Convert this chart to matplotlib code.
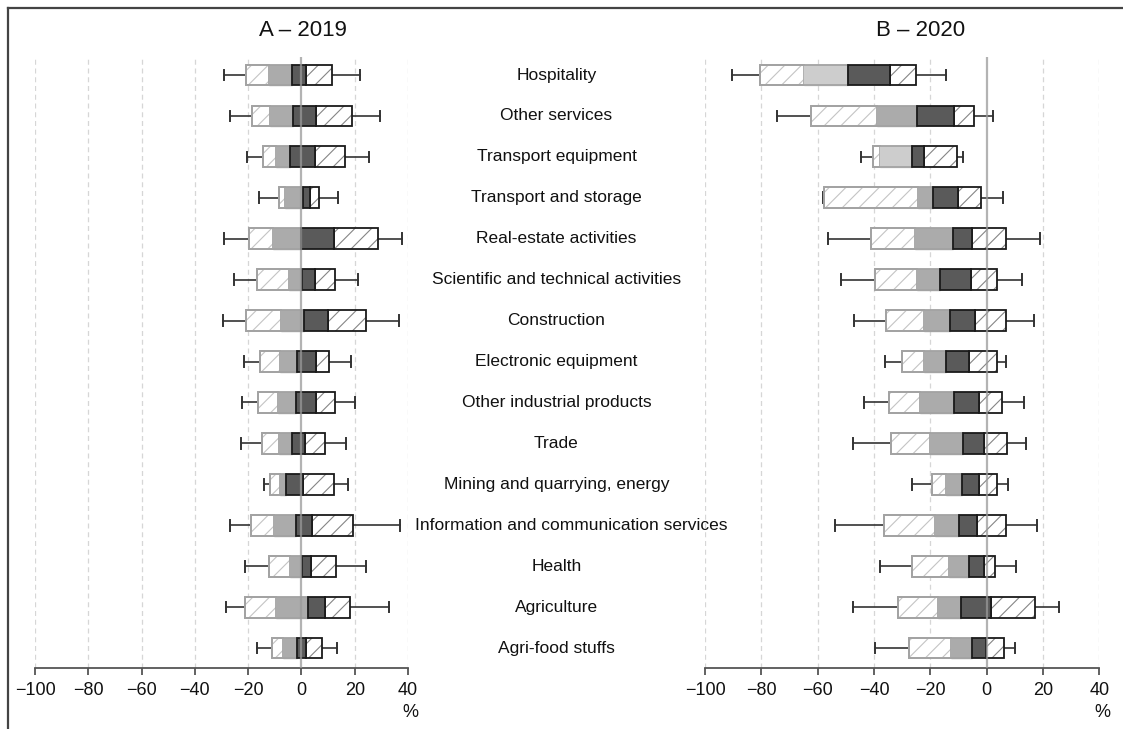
import matplotlib
matplotlib.use("Agg")
import matplotlib.pyplot as plt
from matplotlib.lines import Line2D

plt.rcParams['font.family'] = ['Liberation Sans', 'DejaVu Sans']
plt.rcParams['hatch.linewidth'] = 0.8

categories = [
    "Hospitality", "Other services", "Transport equipment", "Transport and storage",
    "Real-estate activities", "Scientific and technical activities", "Construction",
    "Electronic equipment", "Other industrial products", "Trade",
    "Mining and quarrying, energy", "Information and communication services",
    "Health", "Agriculture", "Agri-food stuffs",
]

# 2019: whisker ends and the five cut points of the stacked box
whisk_lo_2019 = [-29.1, -26.8, -20.5, -16.0, -29.2, -25.3, -29.5, -21.5, -22.2, -22.6, -14.0, -26.8, -21.2, -28.4, -16.7]
cut1_2019 = [-20.7, -18.5, -14.4, -8.5, -19.6, -16.7, -20.9, -15.4, -16.2, -14.8, -11.7, -18.9, -12.2, -21.1, -11.2]
cut2_2019 = [-12.2, -11.8, -9.4, -6.0, -10.5, -4.8, -7.5, -7.9, -8.9, -8.5, -7.9, -10.4, -4.3, -9.5, -6.9]
cut3_2019 = [-3.4, -3.2, -4.3, 0.6, -0.2, 0.4, 1.1, -1.5, -1.9, -3.5, -5.7, -2.0, 0.1, 2.4, -1.5]
cut4_2019 = [1.6, 5.5, 5.2, 3.1, 12.2, 5.0, 10.1, 5.6, 5.4, 1.2, 0.6, 3.9, 3.7, 9.0, 1.8]
cut5_2019 = [11.4, 18.9, 16.2, 6.7, 28.8, 12.7, 24.2, 10.4, 12.5, 8.9, 12.1, 19.2, 13.0, 18.1, 7.6]
whisk_hi_2019 = [21.9, 29.5, 25.4, 13.7, 37.9, 21.1, 36.8, 18.6, 20.0, 16.6, 17.4, 37.0, 24.4, 33.0, 13.5]

# 2020
whisk_lo_2020 = [-90.5, -74.4, -44.6, -58.0, -56.3, -51.6, -47.0, -36.1, -43.4, -47.4, -26.4, -53.8, -37.7, -47.4, -39.7]
cut1_2020 = [-80.6, -62.2, -40.2, -57.8, -40.9, -39.7, -35.7, -30.1, -34.5, -33.8, -19.3, -36.3, -26.5, -31.3, -27.5]
cut2_2020 = [-64.7, -38.8, -37.7, -24.3, -25.5, -24.8, -22.1, -22.4, -23.5, -20.0, -14.6, -18.2, -13.3, -17.2, -12.5]
cut3_2020 = [-49.4, -24.7, -26.4, -19.1, -12.0, -16.4, -12.9, -14.4, -11.5, -8.3, -8.8, -9.9, -6.2, -9.1, -5.2]
cut4_2020 = [-34.4, -11.7, -22.1, -10.1, -5.3, -5.5, -4.3, -6.3, -2.8, -0.9, -2.7, -3.6, -1.1, 1.5, -0.4]
cut5_2020 = [-25.0, -4.6, -10.6, -2.1, 7.0, 3.6, 6.7, 3.5, 5.6, 7.4, 3.6, 6.7, 3.1, 17.1, 6.1]
whisk_hi_2020 = [-14.3, 2.4, -8.3, 5.9, 19.1, 12.4, 16.8, 6.7, 13.1, 13.8, 7.7, 17.9, 10.5, 25.8, 10.2]

mid_shade_2019 = ['#ababab'] * 15
mid_shade_2020 = ['#cdcdcd', '#ababab', '#cdcdcd'] + ['#ababab'] * 12

xticks = [-100, -80, -60, -40, -20, 0, 20, 40]

W, H = 1123, 729
fig = plt.figure(figsize=(W / 100, H / 100), dpi=100)

ax_a = fig.add_axes([35 / W, 61.3 / H, 373 / W, 610.7 / H])
ax_b = fig.add_axes([705 / W, 61.3 / H, 394.3 / W, 610.7 / H])

BOX_H = 0.51
LIGHT_EDGE = '#a3a3a3'
DARK_EDGE = '#1a1a1a'
TXT = '#111111'


def hatched(ax, y, a, b, hatch_col, edge_col, lw):
    ax.barh(y, b - a, left=a, height=BOX_H, color='white', edgecolor=hatch_col,
            hatch='//', linewidth=0, zorder=3)
    ax.barh(y, b - a, left=a, height=BOX_H, fill=False, edgecolor=edge_col,
            linewidth=lw, zorder=4)


def panel(ax, wl, c1, c2, c3, c4, c5, wh, shades):
    n = len(categories)
    ys = list(range(n))
    for x in xticks:
        if x != 0:
            ax.axvline(x, color='#d6d6d6', lw=0.9, ls=(0, (4, 3)), zorder=0)
    for i in ys:
        # whiskers with end caps
        ax.plot([wl[i], c1[i]], [i, i], color='#333333', lw=1.2, zorder=2)
        ax.plot([c5[i], wh[i]], [i, i], color='#333333', lw=1.2, zorder=2)
        for xv in (wl[i], wh[i]):
            ax.plot([xv, xv], [i - 0.13, i + 0.13], color='#333333', lw=1.4, zorder=2)
        hatched(ax, i, c1[i], c2[i], '#c4c4c4', LIGHT_EDGE, 1.3)
        ax.barh(i, c3[i] - c2[i], left=c2[i], height=BOX_H, color=shades[i],
                edgecolor=shades[i], linewidth=1.0, zorder=4)
        ax.barh(i, c4[i] - c3[i], left=c3[i], height=BOX_H, color='#5a5a5a',
                edgecolor=DARK_EDGE, linewidth=1.3, zorder=5)
        hatched(ax, i, c4[i], c5[i], '#858585', DARK_EDGE, 1.3)
        # thin outline of the lower part of the box
        ax.barh(i, c3[i] - c1[i], left=c1[i], height=BOX_H, fill=False,
                edgecolor=LIGHT_EDGE, linewidth=1.3, zorder=4)
    ax.axvline(0, color='#9a9a9a', lw=1.6, alpha=0.75, zorder=6)
    ax.set_xlim(-100, 40)
    ax.set_ylim(14.48, -0.44)
    ax.set_xticks(xticks)
    ax.set_xticklabels(['\u2212' + str(-t) if t < 0 else str(t) for t in xticks])
    ax.set_yticks([])
    for s in ('top', 'left', 'right'):
        ax.spines[s].set_visible(False)
    ax.spines['bottom'].set_color('#555555')
    ax.spines['bottom'].set_linewidth(1.3)
    ax.tick_params(axis='x', length=5, width=1.3, color='#555555', labelsize=13,
                   pad=5, labelcolor=TXT)
    ax.annotate('%', xy=(40, 0), xycoords=('data', 'axes fraction'),
                xytext=(2, -32), textcoords='offset points', ha='center', va='center',
                fontsize=13, color=TXT, annotation_clip=False)


panel(ax_a, whisk_lo_2019, cut1_2019, cut2_2019, cut3_2019, cut4_2019, cut5_2019,
      whisk_hi_2019, mid_shade_2019)
panel(ax_b, whisk_lo_2020, cut1_2020, cut2_2020, cut3_2020, cut4_2020, cut5_2020,
      whisk_hi_2020, mid_shade_2020)

# category names between the two panels: centred in the gap, but never
# starting left of the end of panel A's whiskers
renderer = fig.canvas.get_renderer()
gap_centre = 556.5
min_left = 415
for i, name in enumerate(categories):
    ydata = ax_a.transData.transform((0, i))[1]
    t = fig.text(gap_centre / W, ydata / H, name, ha='center', va='center',
                 fontsize=12.5, color=TXT)
    bb = t.get_window_extent(renderer)
    if bb.x0 < min_left:
        t.set_x((gap_centre + (min_left - bb.x0)) / W)

fig.text(303 / W, 1 - 31 / H, 'A \u2013 2019', ha='center', va='center', fontsize=16,
         color=TXT)
fig.text(921 / W, 1 - 31 / H, 'B \u2013 2020', ha='center', va='center', fontsize=16,
         color=TXT)

# outer frame (top and left edges)
fig.add_artist(Line2D([8 / W, 1.0], [1 - 8 / H, 1 - 8 / H], color='#444444', lw=1.6,
                      transform=fig.transFigure))
fig.add_artist(Line2D([8 / W, 8 / W], [0, 1 - 8 / H], color='#444444', lw=1.6,
                      transform=fig.transFigure))

fig.savefig('out.png', dpi=100)
